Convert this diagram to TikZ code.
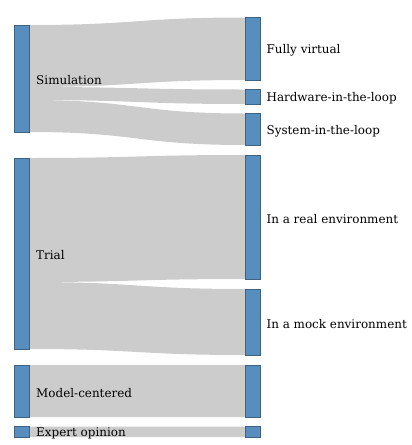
\documentclass[tikz,border=0pt]{standalone}
\usepackage{fontspec}
\setmainfont{DejaVu Serif}
\usetikzlibrary{backgrounds}

\definecolor{barblue}{RGB}{88,142,190}
\definecolor{baredge}{RGB}{62,98,130}
\definecolor{flowgray}{RGB}{204,204,204}

% one band between a source bar and a target bar (y values in px)
\newcommand{\sflow}[4]{%
  \fill[flow] (29.5,#1) .. controls (137,#1) and (137,#3) .. (245,#3)
    -- (245,#4) .. controls (137,#4) and (137,#2) .. (29.5,#2) -- cycle;}

\begin{document}
\begin{tikzpicture}[
			x=0.25mm, y=-0.25mm,
			bar/.style={rectangle, draw=baredge, fill=barblue, line width=0.3pt, minimum width=3.8mm, inner sep=0pt},
			flow/.style={fill=flowgray},
			lbl/.style={anchor=west, inner sep=0pt, yshift=-0.4mm, font=\fontsize{8.5}{9}\selectfont}
			]
			\useasboundingbox (0,0) rectangle (412,445);
			% sources
			\node[bar, minimum height=26.75mm] (sim) at (21.75,78.5) {};
			\node[bar, minimum height=47.75mm] (trial) at (21.75,253.5) {};
			\node[bar, minimum height=13mm] (modelL) at (21.75,391) {};
			\node[bar, minimum height=2.7mm] (expertL) at (21.75,431.75) {};
			% targets
			\node[bar, minimum height=15.6mm] (virtual) at (252.5,48.75) {};
			\node[bar, minimum height=3.6mm] (hil) at (252.5,96.75) {};
			\node[bar, minimum height=7.9mm] (sil) at (252.5,129.25) {};
			\node[bar, minimum height=31mm] (real) at (252.5,217) {};
			\node[bar, minimum height=16.5mm] (mock) at (252.5,322) {};
			\node[bar, minimum height=13mm] (modelR) at (252.5,391) {};
			\node[bar, minimum height=2.7mm] (expertR) at (252.5,431.75) {};
			% bands
			\begin{scope}[on background layer]
				\sflow{25}{87}{17.5}{80}
				\sflow{87}{100}{89.5}{104}
				\sflow{100}{132}{113.5}{145}
				\sflow{158}{282}{155}{279}
				\sflow{282}{349}{289}{355}
				\sflow{365}{417}{365}{417}
				\sflow{426.5}{437}{426.5}{437}
			\end{scope}
			% labels
			\node[lbl] (simtxt) at ([xshift=1.6mm]sim.east) {Simulation};
			\node[lbl] (trialtxt) at ([xshift=1.6mm]trial.east) {Trial};
			\node[lbl] (modeltxt) at ([xshift=1.6mm]modelL.east) {Model-centered};
			\node[lbl] (experttxt) at ([xshift=1.6mm]expertL.east) {Expert opinion};
			\node[lbl] (virtualtxt) at ([xshift=1.5mm]virtual.east) {Fully virtual};
			\node[lbl] (hiltxt) at ([xshift=1.5mm]hil.east) {Hardware-in-the-loop};
			\node[lbl] (siltxt) at ([xshift=1.5mm]sil.east) {System-in-the-loop};
			\node[lbl] (realtxt) at ([xshift=1.5mm]real.east) {In a real environment};
			\node[lbl] (mocktxt) at ([xshift=1.5mm]mock.east) {In a mock environment};
		\end{tikzpicture}
\end{document}
